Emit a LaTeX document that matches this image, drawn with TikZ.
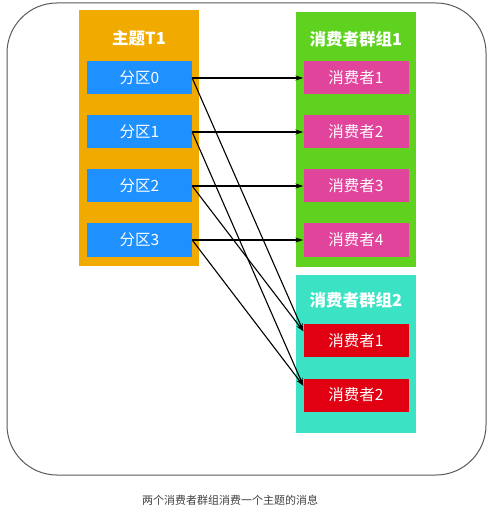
\documentclass[tikz,border=0pt]{standalone}
\usepackage{fontspec}
\setmainfont{Noto Sans CJK SC}
\usetikzlibrary{arrows.meta}
\definecolor{topicorange}{RGB}{241,170,0}
\definecolor{partblue}{RGB}{30,144,255}
\definecolor{groupgreen}{RGB}{94,210,30}
\definecolor{consumerpink}{RGB}{224,68,155}
\definecolor{groupteal}{RGB}{60,226,196}
\definecolor{consumerred}{RGB}{224,0,18}
\tikzset{groupbox/.style={inner sep=0pt,minimum width=120pt}}
\tikzset{title/.style={text=white,font=\bfseries\fontsize{16.5}{18}\selectfont}}
\tikzset{itembox/.style={inner sep=0pt,minimum width=105pt,minimum height=33pt,text=white,font=\fontsize{15.5}{17}\selectfont}}
\tikzset{flow/.style={-{Stealth[length=8pt,width=5pt]}, line width=1.1pt}}

\begin{document}
\begin{tikzpicture}[x=1pt,y=-1pt]
    \useasboundingbox (0,0) rectangle (499,510);
    \draw [black!65, line width=1pt, rounded corners=50pt] (7,3) rectangle (486,475);
    % containers
    \node [groupbox,fill=topicorange,minimum height=256pt] (topic) at (139,138) {};
    \node [groupbox,fill=groupgreen,minimum height=255pt] (groupA) at (356,139.5) {};
    \node [groupbox,fill=groupteal,minimum height=158pt] (groupB) at (356,354) {};
    \node [title] (topictitle) at (139,38) {主题T1};
    \node [title] (groupAtitle) at (356,39) {消费者群组1};
    \node [title] (groupBtitle) at (356,300) {消费者群组2};
    \foreach \i in {0,...,3} {
        \node [itembox,fill=partblue] (p\i) at (139.5,78+54*\i) {分区\i};
        \pgfmathtruncatemacro{\n}{\i+1}
        \node [itembox,fill=consumerpink] (a\n) at (356,78+54*\i) {消费者\n};
        \draw [flow] (p\i.east) -- (a\n.west);
    }
    \node [itembox,fill=consumerred] (b1) at (356,340.5) {消费者1};
    \node [itembox,fill=consumerred] (b2) at (356,395) {消费者2};
    \draw [flow] (p0.east) -- (b1.170);
    \draw [flow] (p2.east) -- (b1.170);
    \draw [flow] (p1.east) -- (b2.170);
    \draw [flow] (p3.east) -- (b2.170);
    \node [text=black!75,font=\fontsize{11}{13}\selectfont] (caption) at (230,500) {两个消费者群组消费一个主题的消息};
\end{tikzpicture}
\end{document}
